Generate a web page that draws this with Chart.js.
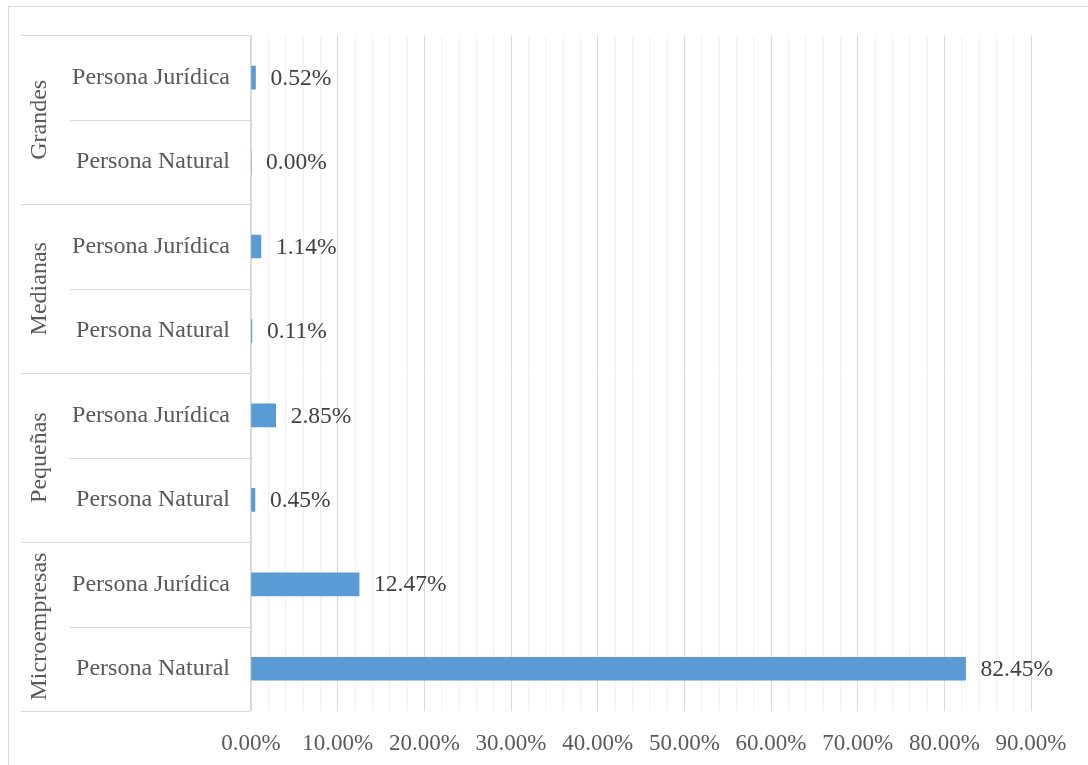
<!DOCTYPE html>
<html lang="es">
<head>
<meta charset="utf-8">
<title>Empresas por tamaño y tipo de persona</title>
<script src="https://cdn.jsdelivr.net/npm/chart.js@4.4.1/dist/chart.umd.min.js"></script>
<style>
  html, body { margin: 0; padding: 0; background: #ffffff; }
  #wrap { position: relative; width: 1088px; height: 765px; }
</style>
</head>
<body>
<div id="wrap"><canvas id="sizeChart"></canvas></div>
<script>
  // données (de haut en bas)
  var groups = ['Grandes', 'Medianas', 'Pequeñas', 'Microempresas'];
  var personTypes = ['Persona Jurídica', 'Persona Natural'];
  var shares = [0.52, 0.00, 1.14, 0.11, 2.85, 0.45, 12.47, 82.45];
  var xTicks = [0, 10, 20, 30, 40, 50, 60, 70, 80, 90];

  var FONT = "'Liberation Serif', 'Times New Roman', serif";
  var BAR = '#5B9BD5';
  var LINE = '#D9D9D9';
  var MINOR = '#F0F0F0';
  var TEXT = '#595959';

  var labels = [];
  groups.forEach(function () {
    personTypes.forEach(function (p) { labels.push(p); });
  });

  var frame = {
    id: 'frame',
    beforeDraw: function (chart) {
      var ctx = chart.ctx;
      ctx.save();
      ctx.fillStyle = '#ffffff';
      ctx.fillRect(0, 0, chart.width, chart.height);
      ctx.strokeStyle = LINE;
      ctx.lineWidth = 1;
      ctx.strokeRect(8.5, 6.5, chart.width + 20, chart.height + 20);
      ctx.restore();
    }
  };

  // axe à deux niveaux : séparateurs, libellés de groupe pivotés
  var multiLevel = {
    id: 'multiLevel',
    afterDraw: function (chart) {
      var ctx = chart.ctx;
      var y = chart.scales.y;
      var area = chart.chartArea;
      var step = (area.bottom - area.top) / labels.length;
      var axisX = Math.round(area.left) - 0.5;
      ctx.save();
      ctx.strokeStyle = LINE;
      ctx.lineWidth = 1;
      ctx.beginPath();
      ctx.moveTo(axisX, area.top);
      ctx.lineTo(axisX, area.bottom);
      for (var i = 0; i <= labels.length; i++) {
        var yy = Math.round(area.top + i * step) + 0.5;
        var x0 = (i % personTypes.length === 0) ? 21 : 70;
        ctx.moveTo(x0, yy);
        ctx.lineTo(axisX, yy);
      }
      ctx.stroke();

      ctx.fillStyle = TEXT;
      ctx.font = '24px ' + FONT;
      ctx.textAlign = 'center';
      ctx.textBaseline = 'middle';
      groups.forEach(function (g, gi) {
        var first = y.getPixelForValue(gi * personTypes.length);
        var last = y.getPixelForValue(gi * personTypes.length + personTypes.length - 1);
        ctx.save();
        ctx.translate(40, (first + last) / 2);
        ctx.rotate(-Math.PI / 2);
        ctx.fillText(g, 0, 0);
        ctx.restore();
      });

      // étiquettes de valeurs
      var meta = chart.getDatasetMeta(0);
      ctx.fillStyle = '#404040';
      ctx.font = '23.5px ' + FONT;
      ctx.textAlign = 'left';
      meta.data.forEach(function (bar, i) {
        ctx.fillText(shares[i].toFixed(2) + '%', bar.x + 15, bar.y + 1);
      });
      ctx.restore();
    }
  };

  new Chart(document.getElementById('sizeChart'), {
    type: 'bar',
    data: {
      labels: labels,
      datasets: [{
        data: shares,
        backgroundColor: BAR,
        borderWidth: 0,
        barThickness: 23
      }]
    },
    options: {
      indexAxis: 'y',
      responsive: true,
      maintainAspectRatio: false,
      animation: false,
      layout: { padding: { left: 0, top: 35, right: 57, bottom: 0 } },
      plugins: { legend: { display: false }, tooltip: { enabled: false } },
      scales: {
        x: {
          min: 0,
          max: 90,
          afterFit: function (s) { s.height = 54; },
          afterBuildTicks: function (s) {
            var t = [];
            for (var v = 0; v <= 90; v += 2) t.push({ value: v });
            s.ticks = t;
          },
          border: { display: false },
          grid: {
            drawTicks: false,
            color: function (c) { return xTicks.indexOf(c.tick.value) >= 0 ? LINE : MINOR; }
          },
          ticks: {
            autoSkip: false,
            maxRotation: 0,
            padding: 19,
            color: TEXT,
            font: { family: FONT, size: 23 },
            callback: function (v) { return xTicks.indexOf(v) >= 0 ? v.toFixed(2) + '%' : ''; }
          }
        },
        y: {
          afterFit: function (s) { s.width = 251; },
          border: { display: false },
          grid: { display: false, drawTicks: false },
          ticks: {
            padding: 21,
            color: TEXT,
            font: { family: FONT, size: 24 }
          }
        }
      }
    },
    plugins: [frame, multiLevel]
  });
</script>
</body>
</html>
